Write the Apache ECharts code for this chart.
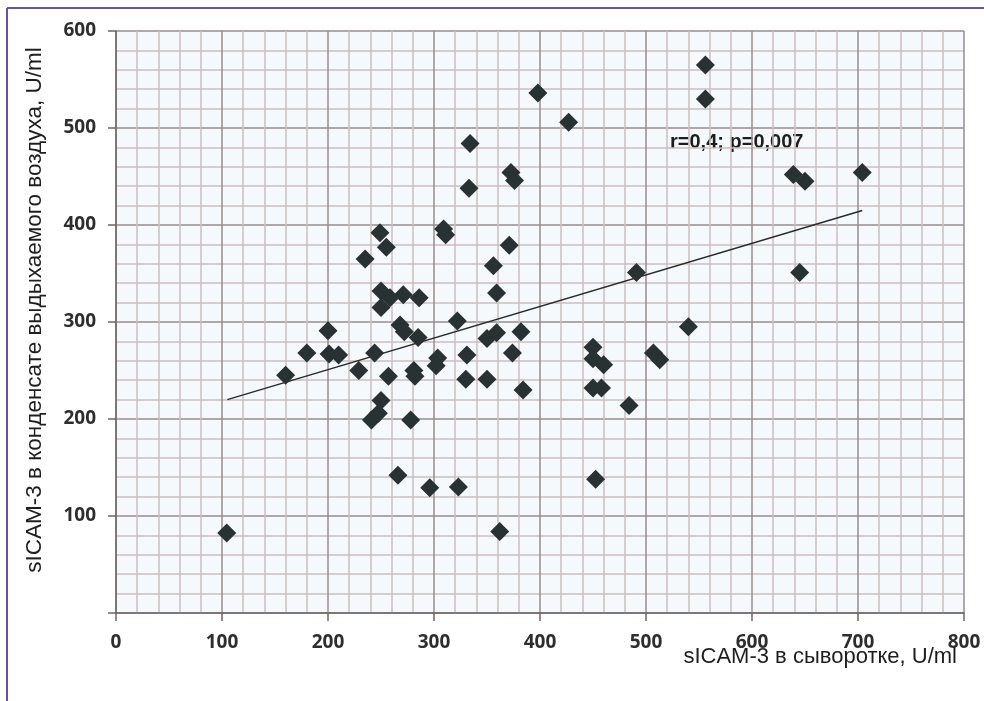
<!DOCTYPE html>
<html>
<head>
<meta charset="utf-8">
<script src="https://cdn.jsdelivr.net/npm/echarts@6/dist/echarts.min.js"></script>
<style>
  html, body { margin: 0; padding: 0; background: #fff; }
  #chart { width: 984px; height: 701px; }
</style>
</head>
<body>
<div id="chart"></div>
<script>
// sICAM-3 в сыворотке (x) vs в конденсате выдыхаемого воздуха (y)
var serumX = [104.5, 160, 180, 200, 201, 210, 229, 235, 241, 244,
  247.5, 249, 250, 250, 250, 255, 257, 258.5, 266, 268,
  271, 272, 278, 281, 282, 285, 286, 296, 302, 303.5,
  309, 311, 322, 323, 330, 331, 333, 334, 350, 350,
  356, 359, 359, 362, 371, 372.6, 376, 374, 382, 384,
  398, 427, 450, 450, 460, 450, 458, 452.5, 484, 491,
  507, 513, 540, 556, 556, 639, 650, 645, 704];
var condensateY = [82.5, 245, 268, 291, 267, 266, 250, 365, 199, 268,
  206, 392, 219, 332, 315, 377, 244, 325, 142, 297,
  328, 290, 199, 250, 244, 284, 325, 129, 255, 263,
  396, 390, 301, 130, 241, 266, 438, 484, 283, 241,
  358, 330, 289, 84, 379, 454, 446, 268, 290, 230,
  536, 506, 274, 262, 256, 232, 232, 138, 214, 351,
  268, 261, 295, 565, 530, 452, 445, 351, 454];
// линия тренда (концы)
var trendX = [105, 704];
var trendY = [220, 415];

var points = serumX.map(function (x, i) { return [x, condensateY[i]]; });
var trend = trendX.map(function (x, i) { return [x, trendY[i]]; });

var myChart = echarts.init(document.getElementById('chart'));
var labelStyle = {
  color: '#2e2e2e',
  fontFamily: 'Open Sans',
  fontWeight: 'bold',
  fontSize: 19
};
var option = {
  animation: false,
  grid: {
    left: 116,
    right: 20,
    top: 31,
    bottom: 88,
    show: true,
    backgroundColor: '#f6f9fc',
    borderWidth: 0
  },
  xAxis: {
    type: 'value',
    min: 0,
    max: 800,
    interval: 100,
    axisLine: { show: true, lineStyle: { color: '#6f6666', width: 1.5 } },
    axisTick: { show: true, length: 8, lineStyle: { color: '#6f6666', width: 1.5 } },
    axisLabel: Object.assign({ margin: 20 }, labelStyle),
    splitLine: { show: true, lineStyle: { color: '#978c8c', width: 1.5 } },
    minorTick: { show: false, splitNumber: 5 },
    minorSplitLine: { show: true, lineStyle: { color: '#cbbfbf', width: 1.5 } }
  },
  yAxis: {
    type: 'value',
    min: 0,
    max: 600,
    interval: 100,
    axisLine: { show: true, lineStyle: { color: '#6f6666', width: 1.5 } },
    axisTick: { show: true, length: 8, lineStyle: { color: '#6f6666', width: 1.5 } },
    axisLabel: Object.assign({
      margin: 20,
      formatter: function (v) { return v === 0 ? '' : v; }
    }, labelStyle),
    splitLine: { show: true, lineStyle: { color: '#978c8c', width: 1.5 } },
    minorTick: { show: false, splitNumber: 5 },
    minorSplitLine: { show: true, lineStyle: { color: '#cbbfbf', width: 1.5 } }
  },
  graphic: [
    {
      type: 'line',
      shape: { x1: 7, y1: 8, x2: 7, y2: 701 },
      style: { stroke: '#6a52a3', lineWidth: 2 }
    },
    {
      type: 'line',
      shape: { x1: 7, y1: 8, x2: 984, y2: 8 },
      style: { stroke: '#6a52a3', lineWidth: 2 }
    },
    {
      type: 'text',
      x: 35,
      y: 310,
      rotation: Math.PI / 2,
      style: {
        text: 'sICAM-3 в конденсате выдыхаемого воздуха, U/ml',
        fill: '#1e1e1e',
        font: '22.5px "Liberation Sans", Arial, sans-serif',
        align: 'center',
        verticalAlign: 'middle'
      }
    },
    {
      type: 'text',
      x: 957,
      y: 657,
      style: {
        text: 'sICAM-3 в сыворотке, U/ml',
        fill: '#1e1e1e',
        font: '22px "Liberation Sans", Arial, sans-serif',
        align: 'right',
        verticalAlign: 'middle'
      }
    },
    {
      type: 'text',
      x: 670,
      y: 142,
      style: {
        text: 'r=0,4; p=0,007',
        fill: '#1e1e1e',
        font: 'bold 20px "Liberation Sans", Arial, sans-serif',
        align: 'left',
        verticalAlign: 'middle'
      }
    }
  ],
  series: [
    {
      type: 'line',
      data: trend,
      symbol: 'none',
      lineStyle: { color: '#2a2a2a', width: 1.5 },
      z: 3
    },
    {
      type: 'scatter',
      data: points,
      symbol: 'diamond',
      symbolSize: 19,
      itemStyle: { color: '#283232', opacity: 1 },
      z: 4
    }
  ]
};
myChart.setOption(option);
</script>
</body>
</html>
